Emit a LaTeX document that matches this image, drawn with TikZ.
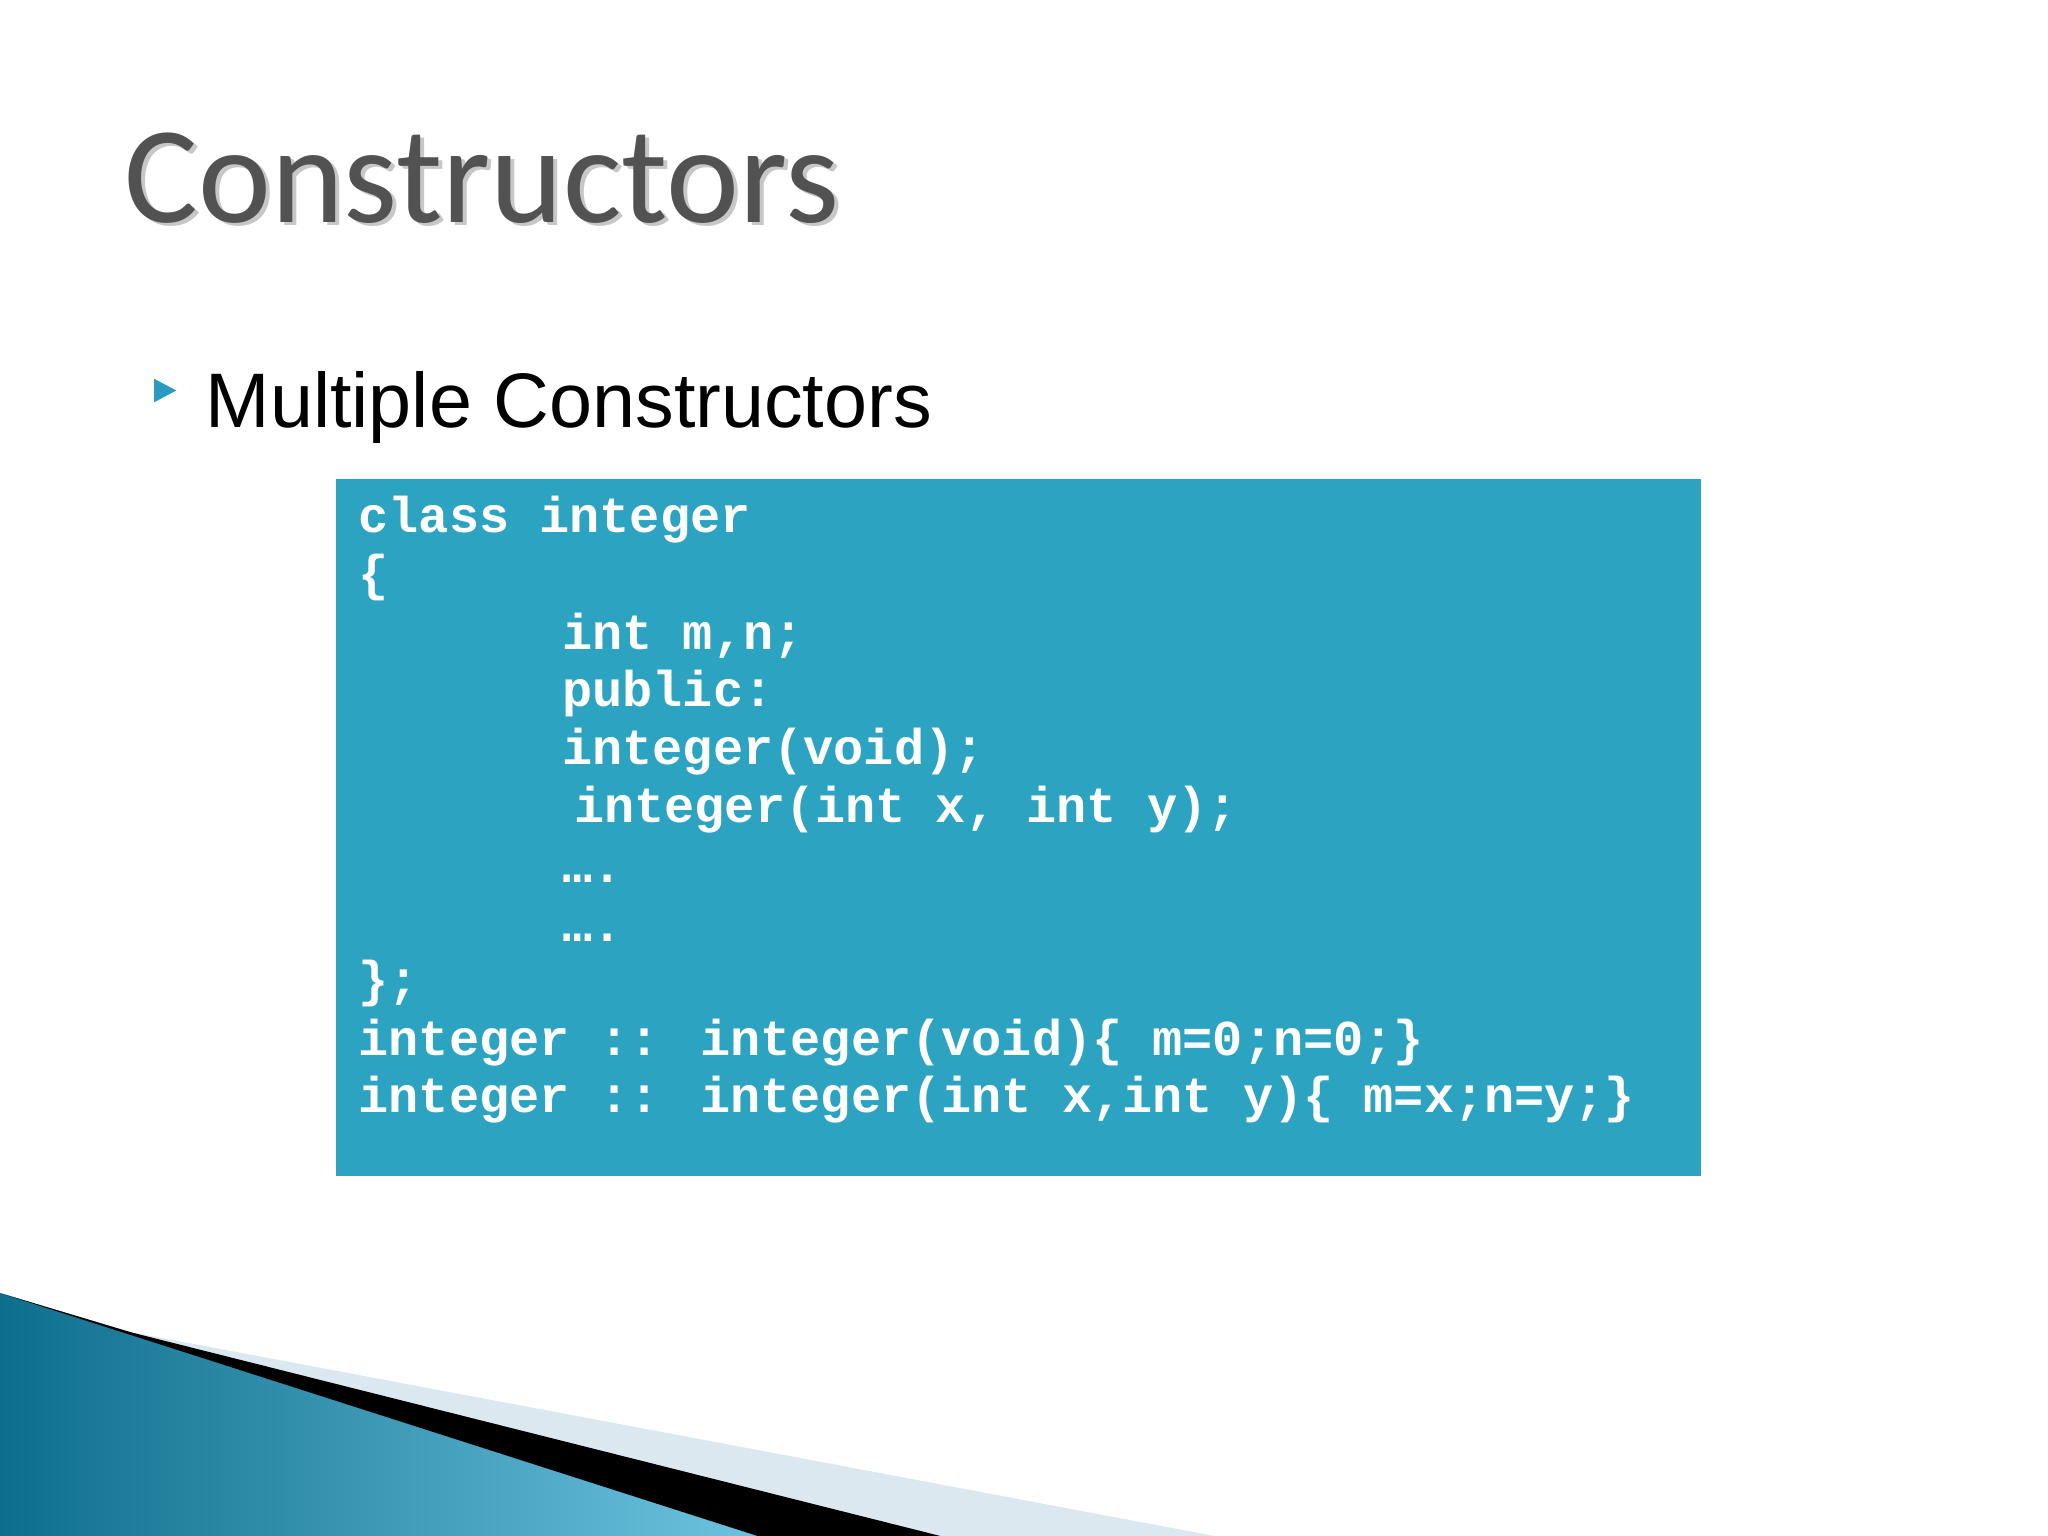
\documentclass[tikz,border=0pt]{standalone}
\usepackage{fontspec}
\setmainfont{Liberation Sans}
\newfontfamily\titlefont{Carlito}
\newfontfamily\codefont{Liberation Mono}
\definecolor{boxc}{HTML}{2DA3C2}
\definecolor{darkt}{HTML}{0E6F8C}
\definecolor{lightt}{HTML}{6CC3E0}
\definecolor{bullc}{HTML}{2A9BC0}
\definecolor{pale}{HTML}{DCE8F0}
\begin{document}
\begin{tikzpicture}[x=0.01306cm,y=-0.01306cm,
  code/.style={anchor=base west,inner sep=0pt,text=white,font=\codefont\bfseries\fontsize{14.3}{16}\selectfont}]
\useasboundingbox (0,0) rectangle (1568,1176);
\fill[white] (0,0) rectangle (1568,1176);
% bottom decoration
\fill[pale] (90,1018) -- (930,1176) -- (700,1176) -- cycle;
\shade[left color=darkt, right color=lightt] (0,990) -- (100,1020) -- (580,1176) -- (0,1176) -- cycle;
\fill[black] (0,990) -- (100,1020) -- (720,1176) -- (580,1176) -- cycle;
% title
\node[anchor=base west,inner sep=0pt,text=black!22,font=\titlefont\fontsize{39.3}{45}\selectfont] (shadow) at (98,173) {Constructors};
\node[anchor=base west,inner sep=0pt,text=black!68,font=\titlefont\fontsize{39.3}{45}\selectfont] (title) at (95,170) {Constructors};
% bullet
\fill[bullc] (118,290) -- (135,299) -- (118,308) -- cycle;
\node[anchor=base west,inner sep=0pt,font=\fontsize{22}{26}\selectfont] (sub) at (157,327) {Multiple Constructors};
% code box
\fill[boxc] (257,367) rectangle (1302,900);
\node[code] (l1) at (274,408) {class integer};
\node[code] (l2) at (274,452) {\{};
\node[code] (l3) at (430,497) {int m,n;};
\node[code] (l4) at (430,541) {public:};
\node[code] (l5) at (430,585) {integer(void);};
\node[code] (l6) at (439,630) {integer(int x, int y);};
\node[code] (l7) at (430,676) {….};
\node[code] (l8) at (430,721) {….};
\node[code] (l9) at (274,763) {\};};
\node[code] (l10) at (274,808) {integer :: integer(void)\{ m=0;n=0;\}};
\node[code] (l11) at (274,852) {integer :: integer(int x,int y)\{ m=x;n=y;\}};
\end{tikzpicture}
\end{document}
